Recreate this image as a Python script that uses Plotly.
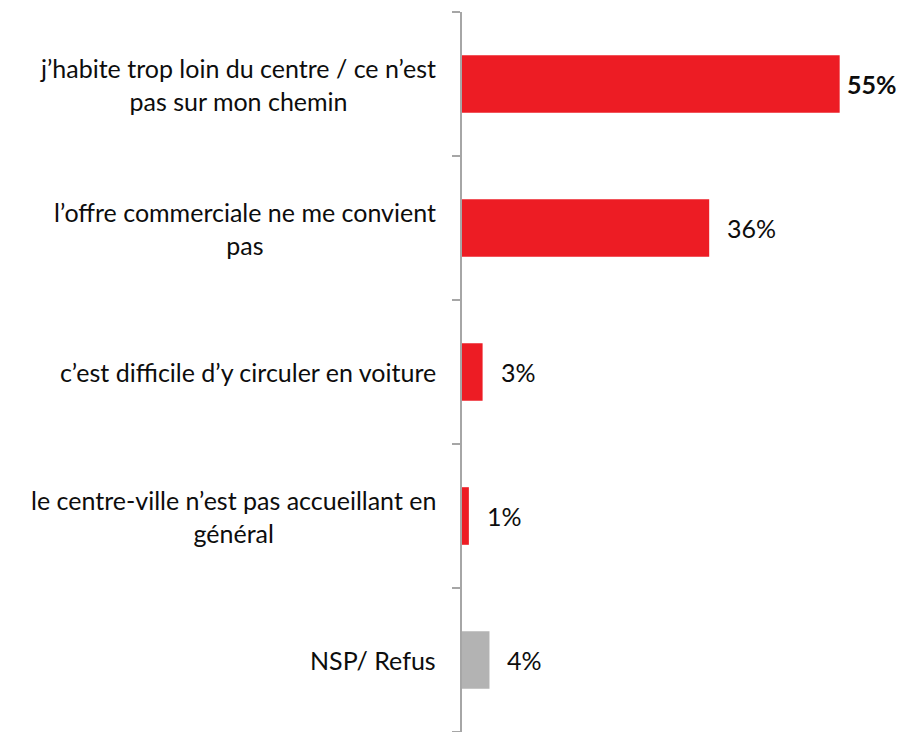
import plotly.graph_objects as go

categories = [
    "j’habite trop loin du centre / ce n’est<br>pas sur mon chemin",
    "l’offre commerciale ne me convient<br>pas",
    "c’est difficile d’y circuler en voiture",
    "le centre-ville n’est pas accueillant en<br>général",
    "NSP/ Refus",
]
values = [55, 36, 3, 1, 4]
value_labels = ["<b>55%</b>", "36%", "3%", "1%", "4%"]
bar_colors = ["#ED1C24", "#ED1C24", "#ED1C24", "#ED1C24", "#B3B3B3"]
label_shift = [5, 16, 16, 16, 16]

idx = list(range(len(categories)))
fig = go.Figure()
fig.add_trace(go.Bar(
    x=values, y=idx, orientation="h",
    marker=dict(color=bar_colors, line=dict(width=0)),
    hoverinfo="skip",
))

font_family = "Lato, 'Open Sans', sans-serif"
for i, c in enumerate(categories):
    fig.add_annotation(
        x=0, xref="paper", y=i, yref="y", text=c, showarrow=False,
        xanchor="right", align="center", xshift=-24,
        font=dict(family=font_family, size=25, color="#0d0d0d"),
    )
for i, (v, t) in enumerate(zip(values, value_labels)):
    fig.add_annotation(
        x=v, xref="x", y=i, yref="y", text=t, showarrow=False,
        xanchor="left", xshift=label_shift[i],
        font=dict(family=font_family, size=25, color="#0d0d0d"),
    )

fig.update_layout(
    width=899, height=732,
    margin=dict(l=462, r=25, t=12, b=0),
    paper_bgcolor="white", plot_bgcolor="white",
    bargap=0.6, showlegend=False,
    xaxis=dict(range=[0, 60], visible=False, fixedrange=True),
    yaxis=dict(
        range=[len(categories) - 0.5, -0.5],
        tickvals=[i - 0.5 for i in range(len(categories) + 1)],
        showticklabels=False, ticks="outside", ticklen=8,
        tickcolor="#A6A6A6", tickwidth=2,
        showline=True, linecolor="#A6A6A6", linewidth=2,
        showgrid=False, zeroline=False,
    ),
)
fig.write_html(
    "out.html",
    config={"displayModeBar": False},
    post_script="document.body.style.margin='0';document.body.style.overflow='hidden';",
)
